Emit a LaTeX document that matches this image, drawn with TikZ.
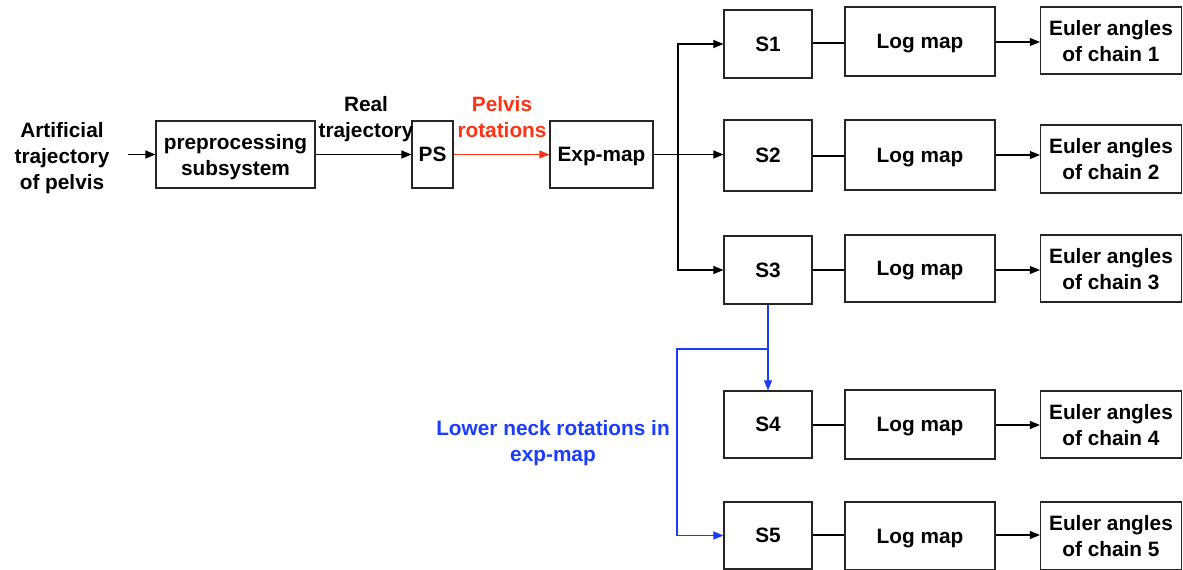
\documentclass[tikz,border=0pt]{standalone}
\usepackage{fontspec}
\setmainfont{Liberation Sans}
\usetikzlibrary{arrows.meta}
\definecolor{redc}{RGB}{255,50,20}
\definecolor{bluec}{RGB}{25,60,255}
\begin{document}
\begin{tikzpicture}[x=1pt,y=-1pt,
  every node/.style={font=\fontsize{20.8}{26}\selectfont\bfseries, align=center, inner sep=0pt, text depth=0pt},
  box/.style={draw=black!85, line width=1.2pt},
  lbl/.style={},
  conn/.style={line width=1.1pt, draw=black},
  arr/.style={conn, -{Triangle[length=10pt,width=8pt]}},
  barr/.style={line width=1.1pt, draw=bluec, -{Triangle[length=10pt,width=8pt]}},
  rarr/.style={line width=1.1pt, draw=redc, -{Triangle[length=10pt,width=8pt]}}]
\useasboundingbox (0,0) rectangle (1183,570);

% left side
\node[lbl] (art) at (62,156) {Artificial\\trajectory\\of pelvis};
\coordinate (inp) at (128,154.5);
\node[box, minimum width=159pt, minimum height=67pt] (pre) at (235.5,154.5) {preprocessing\\subsystem};
\node[box, minimum width=41pt, minimum height=67pt] (ps) at (432.5,154.5) {PS};
\node[box, minimum width=103pt, minimum height=67pt] (exp) at (601.5,154.5) {Exp-map};

\node[lbl] (real) at (366,117) {Real\\trajectory};
\node[lbl, text=redc] (pelv) at (502,117) {Pelvis\\rotations};
\node[lbl, text=bluec] (neck) at (553,441) {Lower neck rotations in\\exp-map};

% S boxes
\node[box, minimum width=88pt, minimum height=68pt] (s1) at (768,44) {S1};
\node[box, minimum width=88pt, minimum height=71pt] (s2) at (768,155.5) {S2};
\node[box, minimum width=88pt, minimum height=68pt] (s3) at (768,270) {S3};
\node[box, minimum width=88pt, minimum height=67pt] (s4) at (768,424.5) {S4};
\node[box, minimum width=88pt, minimum height=67pt] (s5) at (768,535.5) {S5};

% Log map boxes
\node[box, minimum width=150pt, minimum height=69pt] (l1) at (920,41.5) {Log map};
\node[box, minimum width=150pt, minimum height=70pt] (l2) at (920,155) {Log map};
\node[box, minimum width=150pt, minimum height=67pt] (l3) at (920,268.5) {Log map};
\node[box, minimum width=150pt, minimum height=69pt] (l4) at (920,424.5) {Log map};
\node[box, minimum width=150pt, minimum height=68pt] (l5) at (920,536) {Log map};

% Euler boxes
\node[box, minimum width=141pt, minimum height=67pt] (e1) at (1111,40.5) {Euler angles\\of chain 1};
\node[box, minimum width=141pt, minimum height=68pt] (e2) at (1111,159) {Euler angles\\of chain 2};
\node[box, minimum width=141pt, minimum height=67pt] (e3) at (1111,268.5) {Euler angles\\of chain 3};
\node[box, minimum width=141pt, minimum height=67pt] (e4) at (1111,424.5) {Euler angles\\of chain 4};
\node[box, minimum width=141pt, minimum height=68pt] (e5) at (1111,536) {Euler angles\\of chain 5};

% connectors left
\draw[arr] (inp) -- (pre.west |- inp);
\draw[arr] (pre.east) -- (ps.west);
\draw[rarr] (ps.east) -- (exp.west);
\coordinate (br) at (678,154.5);
\draw[arr] (exp.east) -- (br) -- (s2.west |- br);
\draw[arr] (br) |- (s1.west);
\draw[arr] (br) |- (s3.west);

% blue
\coordinate (bl) at (768,349);
\draw[barr] (s3.south) -- (s4.north);
\coordinate (bl2) at (677,349);
\draw[barr] (bl) -- (bl2) |- (s5.west);

% S -> Log, Log -> Euler
\foreach \i/\y in {1/43,2/156,3/270,4/425,5/535}{
  \draw[conn] (s\i.east |- 0,\y) -- (l\i.west |- 0,\y);
}
\foreach \i/\y in {1/42,2/155,3/270,4/425,5/535}{
  \draw[arr] (l\i.east |- 0,\y) -- (e\i.west |- 0,\y);
}
\end{tikzpicture}
\end{document}
